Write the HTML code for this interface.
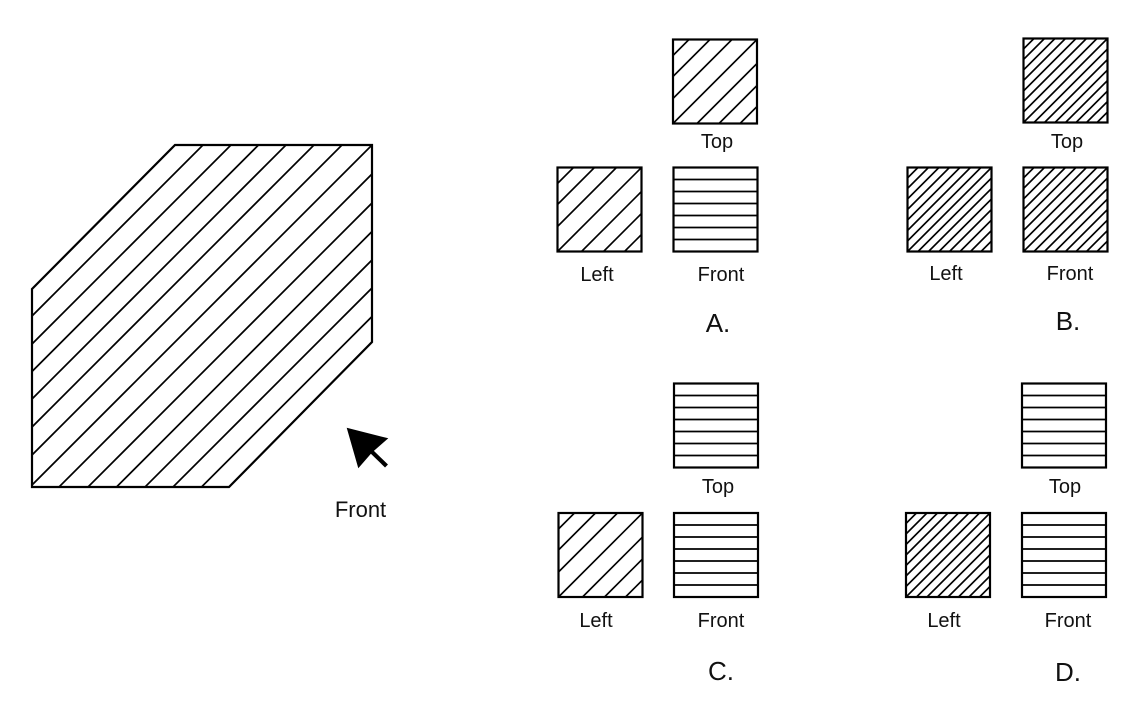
<!DOCTYPE html>
<html>
<head>
<meta charset="utf-8">
<style>
  html, body { margin: 0; padding: 0; background: #ffffff; }
  body { width: 1142px; height: 714px; overflow: hidden; }
  svg { display: block; }
  text { font-family: "Liberation Sans", sans-serif; fill: #111; }
</style>
</head>
<body>
<svg width="1142" height="714" viewBox="0 0 1142 714" xmlns="http://www.w3.org/2000/svg">
  <defs>
    <clipPath id="mainClip">
      <polygon points="32,289 175,145 372,145 372,342 229,487 32,487"/>
    </clipPath>
    <g id="sparse">
      <g stroke="#000" stroke-width="1.6" stroke-linecap="butt">
        <line x1="0" y1="16" x2="16" y2="0"/>
        <line x1="0" y1="37" x2="37" y2="0"/>
        <line x1="0" y1="59" x2="59" y2="0"/>
        <line x1="0" y1="84" x2="84" y2="0"/>
        <line x1="24" y1="84" x2="84" y2="24"/>
        <line x1="46" y1="84" x2="84" y2="46"/>
        <line x1="67" y1="84" x2="84" y2="67"/>
      </g>
      <rect x="0" y="0" width="84" height="84" fill="none" stroke="#000" stroke-width="2.2"/>
    </g>
    <g id="dense">
      <g stroke="#000" stroke-width="1.6" stroke-linecap="butt">
        <line x1="0" y1="10.5" x2="10.5" y2="0"/>
        <line x1="0" y1="21" x2="21" y2="0"/>
        <line x1="0" y1="31.5" x2="31.5" y2="0"/>
        <line x1="0" y1="42" x2="42" y2="0"/>
        <line x1="0" y1="52.5" x2="52.5" y2="0"/>
        <line x1="0" y1="63" x2="63" y2="0"/>
        <line x1="0" y1="73.5" x2="73.5" y2="0"/>
        <line x1="0" y1="84" x2="84" y2="0"/>
        <line x1="10.5" y1="84" x2="84" y2="10.5"/>
        <line x1="21" y1="84" x2="84" y2="21"/>
        <line x1="31.5" y1="84" x2="84" y2="31.5"/>
        <line x1="42" y1="84" x2="84" y2="42"/>
        <line x1="52.5" y1="84" x2="84" y2="52.5"/>
        <line x1="63" y1="84" x2="84" y2="63"/>
        <line x1="73.5" y1="84" x2="84" y2="73.5"/>
      </g>
      <rect x="0" y="0" width="84" height="84" fill="none" stroke="#000" stroke-width="2.2"/>
    </g>
    <g id="horiz">
      <g stroke="#000" stroke-width="1.8">
        <line x1="0" y1="12" x2="84" y2="12"/>
        <line x1="0" y1="24" x2="84" y2="24"/>
        <line x1="0" y1="36" x2="84" y2="36"/>
        <line x1="0" y1="48" x2="84" y2="48"/>
        <line x1="0" y1="60" x2="84" y2="60"/>
        <line x1="0" y1="72" x2="84" y2="72"/>
      </g>
      <rect x="0" y="0" width="84" height="84" fill="none" stroke="#000" stroke-width="2.2"/>
    </g>
  </defs>

  <!-- Main hatched solid -->
  <g clip-path="url(#mainClip)" stroke="#000" stroke-width="1.7">
    <line x1="0" y1="348" x2="400" y2="-52"/>
    <line x1="0" y1="376" x2="400" y2="-24"/>
    <line x1="0" y1="403.5" x2="400" y2="3.5"/>
    <line x1="0" y1="431" x2="400" y2="31"/>
    <line x1="0" y1="459" x2="400" y2="59"/>
    <line x1="0" y1="487" x2="400" y2="87"/>
    <line x1="0" y1="517" x2="400" y2="117"/>
    <line x1="0" y1="546" x2="400" y2="146"/>
    <line x1="0" y1="575" x2="400" y2="175"/>
    <line x1="0" y1="603.5" x2="400" y2="203.5"/>
    <line x1="0" y1="632" x2="400" y2="232"/>
    <line x1="0" y1="660" x2="400" y2="260"/>
    <line x1="0" y1="688.5" x2="400" y2="288.5"/>
  </g>
  <polygon points="32,289 175,145 372,145 372,342 229,487 32,487" fill="none" stroke="#000" stroke-width="2.2" stroke-linejoin="miter"/>

  <!-- Arrow -->
  <polygon points="346.7,427.7 358.3,468.3 372,452.5 388.3,438.3" fill="#000"/>
  <line x1="370" y1="450" x2="386.5" y2="466" stroke="#000" stroke-width="4.2"/>
  <text x="360.5" y="517" font-size="22" text-anchor="middle">Front</text>

  <!-- Option A -->
  <use href="#sparse" x="673" y="39.5"/>
  <use href="#sparse" x="557.5" y="167.5"/>
  <use href="#horiz" x="673.5" y="167.5"/>
  <text x="717" y="148" font-size="20" text-anchor="middle">Top</text>
  <text x="597" y="281" font-size="20" text-anchor="middle">Left</text>
  <text x="721" y="281" font-size="20" text-anchor="middle">Front</text>
  <text x="718" y="332" font-size="26" text-anchor="middle">A.</text>

  <!-- Option B -->
  <use href="#dense" x="1023.5" y="38.5"/>
  <use href="#dense" x="907.5" y="167.5"/>
  <use href="#dense" x="1023.5" y="167.5"/>
  <text x="1067" y="148" font-size="20" text-anchor="middle">Top</text>
  <text x="946" y="280" font-size="20" text-anchor="middle">Left</text>
  <text x="1070" y="280" font-size="20" text-anchor="middle">Front</text>
  <text x="1068" y="330" font-size="26" text-anchor="middle">B.</text>

  <!-- Option C -->
  <use href="#horiz" x="674" y="383.5"/>
  <use href="#sparse" x="558.5" y="513"/>
  <use href="#horiz" x="674" y="513"/>
  <text x="718" y="493" font-size="20" text-anchor="middle">Top</text>
  <text x="596" y="627" font-size="20" text-anchor="middle">Left</text>
  <text x="721" y="627" font-size="20" text-anchor="middle">Front</text>
  <text x="721" y="680" font-size="26" text-anchor="middle">C.</text>

  <!-- Option D -->
  <use href="#horiz" x="1022" y="383.5"/>
  <use href="#dense" x="906" y="513"/>
  <use href="#horiz" x="1022" y="513"/>
  <text x="1065" y="493" font-size="20" text-anchor="middle">Top</text>
  <text x="944" y="627" font-size="20" text-anchor="middle">Left</text>
  <text x="1068" y="627" font-size="20" text-anchor="middle">Front</text>
  <text x="1068" y="681" font-size="26" text-anchor="middle">D.</text>
</svg>
</body>
</html>
